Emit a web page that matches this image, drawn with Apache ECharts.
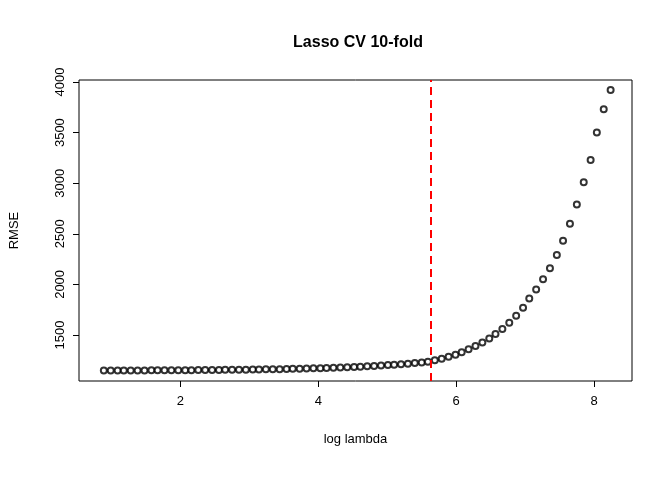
<!DOCTYPE html><html><head><meta charset="utf-8"><script src="https://cdn.jsdelivr.net/npm/echarts@6/dist/echarts.min.js"></script></head><body style="margin:0"><div id="c" style="width:672px;height:480px"></div><script>
const logLambda=[0.89,0.99,1.09,1.18,1.28,1.38,1.48,1.58,1.67,1.77,1.87,1.97,2.07,2.16,2.26,2.36,2.46,2.56,2.65,2.75,2.85,2.95,3.05,3.14,3.24,3.34,3.44,3.54,3.63,3.73,3.83,3.93,4.03,4.12,4.22,4.32,4.42,4.52,4.61,4.71,4.81,4.91,5.01,5.10,5.20,5.30,5.40,5.50,5.59,5.69,5.79,5.89,5.99,6.08,6.18,6.28,6.38,6.48,6.57,6.67,6.77,6.87,6.97,7.06,7.16,7.26,7.36,7.46,7.55,7.65,7.75,7.85,7.95,8.04,8.14,8.24];
const rmse=[1150,1150,1150,1150,1150,1150,1150,1151,1151,1151,1151,1152,1152,1152,1153,1153,1154,1154,1155,1156,1156,1157,1158,1159,1160,1161,1162,1163,1165,1166,1168,1170,1172,1174,1176,1178,1181,1184,1187,1190,1194,1198,1202,1206,1211,1216,1222,1228,1235,1250,1265,1285,1305,1330,1360,1390,1425,1465,1510,1560,1620,1690,1770,1860,1950,2050,2160,2290,2430,2600,2790,3010,3230,3500,3730,3920];
const yTicks=[1500,2000,2500,3000,3500,4000];
const xTicks=[2,4,6,8];
const cvLine=5.63;
const f='Liberation Sans, Arial, sans-serif';
const ch=echarts.init(document.getElementById('c'));
ch.setOption({animation:false,
title:{text:'Lasso CV 10-fold',left:353,top:30,textAlign:'center',textStyle:{fontFamily:f,fontSize:16,fontWeight:'bold',color:'#000'}},
grid:{left:75,right:40,top:80,bottom:99,show:true,borderColor:'#000',borderWidth:1},
xAxis:{type:'value',min:0.53,max:8.55,name:'log lambda',nameLocation:'middle',nameGap:52,nameTextStyle:{fontFamily:f,fontSize:13,color:'#000'},
 axisLine:{show:false},splitLine:{show:false},
 axisTick:{show:true,length:6,customValues:xTicks,lineStyle:{color:'#000'}},
 axisLabel:{customValues:xTicks,fontFamily:f,fontSize:13,color:'#000',margin:14}},
yAxis:{type:'value',min:1045,max:4020,name:'RMSE',nameLocation:'middle',nameGap:58,nameTextStyle:{fontFamily:f,fontSize:13,color:'#000'},
 axisLine:{show:false},splitLine:{show:false},
 axisTick:{show:true,length:6,customValues:yTicks,lineStyle:{color:'#000'}},
 axisLabel:{customValues:yTicks,formatter:v=>String(v),rotate:90,fontFamily:f,fontSize:13,color:'#000',margin:12}},
series:[{type:'scatter',data:logLambda.map((x,i)=>[x,rmse[i]]),symbol:'emptyCircle',symbolSize:6,itemStyle:{color:'#000',borderColor:'#000',borderWidth:1},
 markLine:{silent:true,symbol:'none',label:{show:false},lineStyle:{color:'#ff0000',type:[8,5],width:2},data:[{xAxis:cvLine}]}}]
});
</script></body></html>
